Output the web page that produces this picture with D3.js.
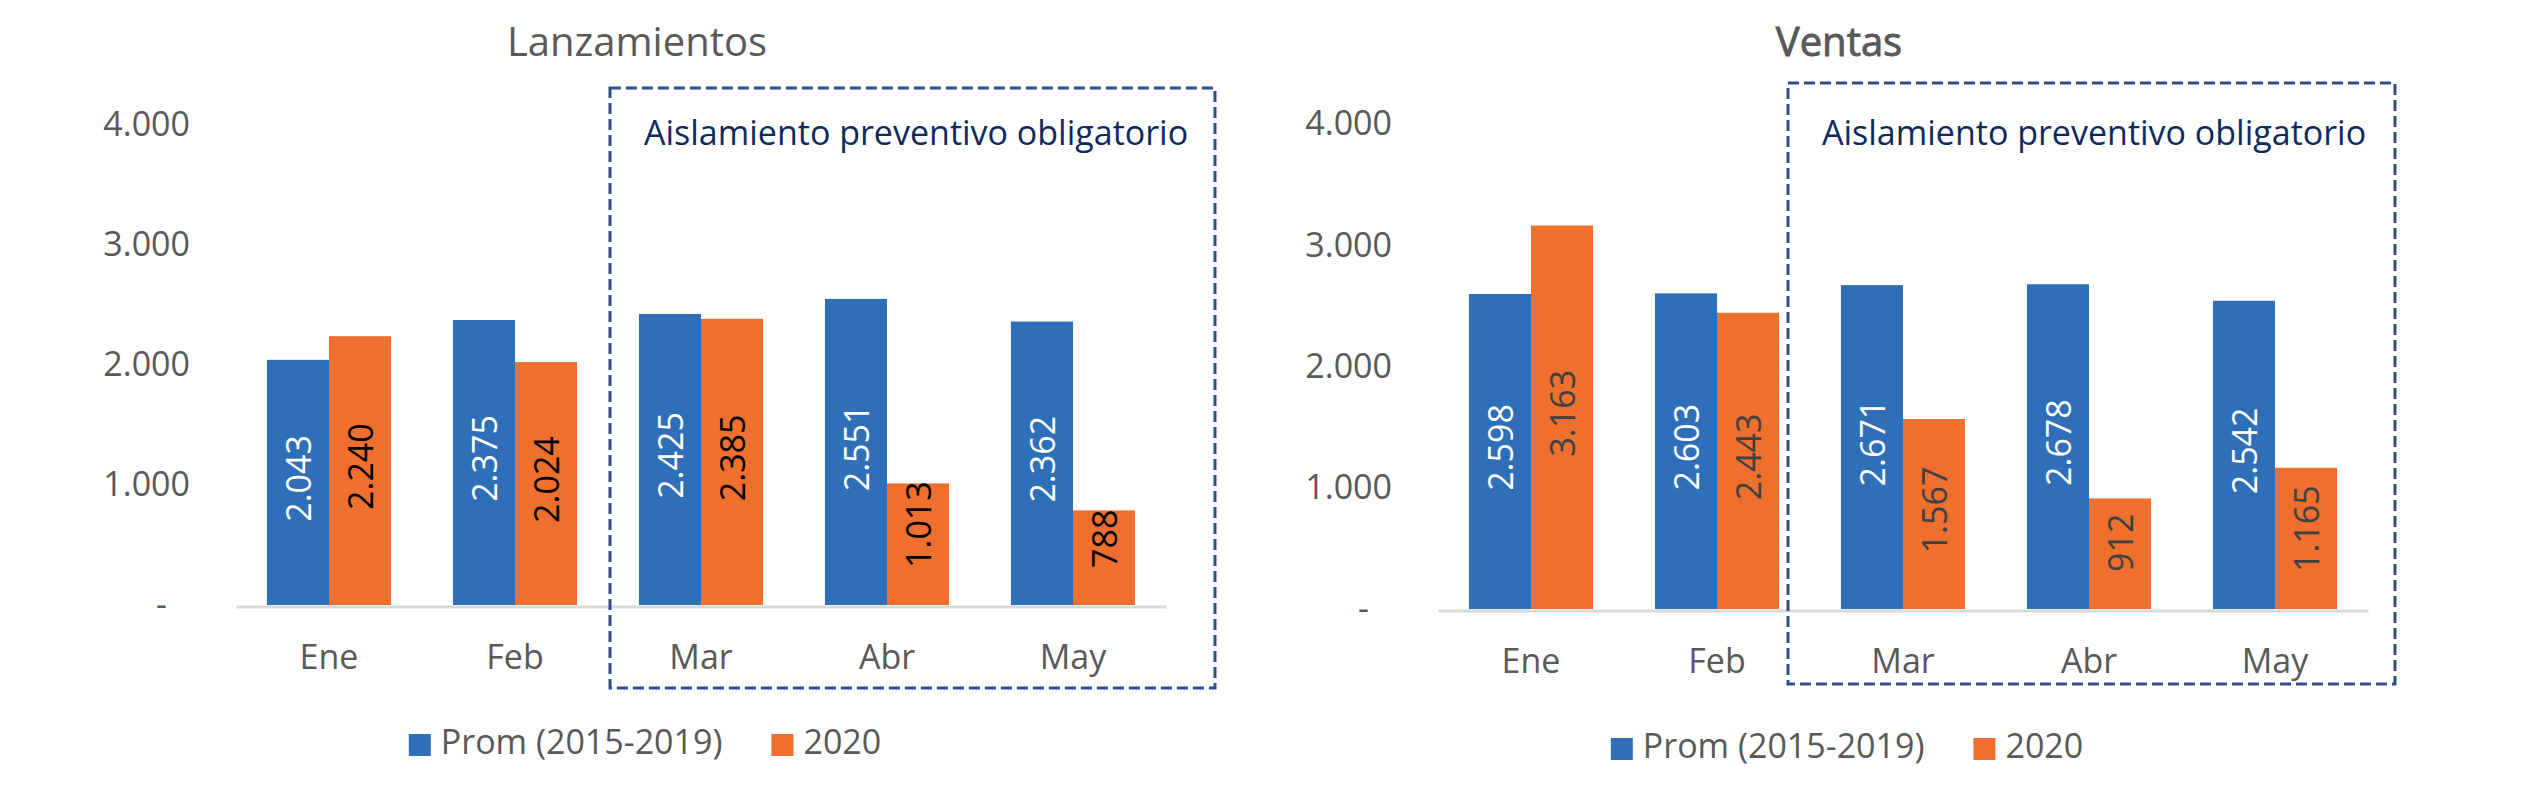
<!DOCTYPE html>
<html>
<head>
<meta charset="utf-8">
<script src="https://cdn.jsdelivr.net/npm/d3@7"></script>
<style>
  body { margin: 0; background: #fff; }
  svg { display: block; font-family: "Open Sans", "Noto Sans", sans-serif; }
</style>
</head>
<body>
<svg id="chart"></svg>
<script>
const months = ["Ene", "Feb", "Mar", "Abr", "May"];
const seriesNames = ["Prom (2015-2019)", "2020"];
const lanzProm = [2043, 2375, 2425, 2551, 2362];
const lanz2020 = [2240, 2024, 2385, 1013, 788];
const ventasProm = [2598, 2603, 2671, 2678, 2542];
const ventas2020 = [3163, 2443, 1567, 912, 1165];
const yTicks = [0, 1000, 2000, 3000, 4000];
const boxLabel = "Aislamiento preventivo obligatorio";
const boxStart = "Mar";

const width = 2526, height = 810;
const colors = ["#2e6fb8", "#ee6f2e"];
const locale = d3.formatLocale({ decimal: ",", thousands: ".", grouping: [3], currency: ["$", ""] });
const fmt = v => v === 0 ? "-" : locale.format(",")(v);

// two panels, side by side
const panels = [
  { title: "Lanzamientos", stroke: 0, values: [lanzProm, lanz2020],
    x0: 236, x1: 1166, y0: 605, y1: 125, titleX: 637, legendX: 645, legendY: 754,
    labelColors: ["#fff", "#000"], box: { dx0: 2, dx1: 49, top: 88, bottom: 688 } },
  { title: "Ventas", stroke: 0.9, values: [ventasProm, ventas2020],
    x0: 1438, x1: 2368, y0: 609, y1: 124, titleX: 1839, legendX: 1847, legendY: 758,
    labelColors: ["#fff", "#404040"], box: { dx0: -22, dx1: 27, top: 83, bottom: 684 } }
];

const svg = d3.select("#chart")
  .attr("width", width)
  .attr("height", height)
  .attr("viewBox", [0, 0, width, height]);

panels.forEach(p => {
  const g = svg.append("g");

  const x = d3.scaleBand()
    .domain(months)
    .range([p.x0, p.x1])
    .paddingInner(0.333)
    .paddingOuter(0.1665);

  const xs = d3.scaleBand()
    .domain(d3.range(seriesNames.length))
    .range([0, x.bandwidth()]);

  const y = d3.scaleLinear()
    .domain([0, 4000])
    .range([p.y0, p.y1]);

  // title
  g.append("text")
    .attr("x", p.titleX)
    .attr("y", 56)
    .attr("text-anchor", "middle")
    .attr("font-size", 40)
    .attr("fill", "#595959")
    .attr("stroke", "#595959")
    .attr("stroke-width", p.stroke)
    .text(p.title);

  // y axis
  const gy = g.append("g")
    .attr("transform", `translate(${p.x0},0)`)
    .call(d3.axisLeft(y).tickValues(yTicks).tickFormat(fmt).tickSize(0).tickPadding(46))
    .call(a => a.select(".domain").remove())
    .attr("font-family", null)
    .attr("font-size", 34);
  gy.selectAll("text")
    .attr("fill", "#595959")
    .attr("dx", d => d === 0 ? -23 : 0);

  // x axis
  const gx = g.append("g")
    .attr("transform", `translate(0,${p.y0 + 1.5})`)
    .call(d3.axisBottom(x).tickSize(0).tickSizeOuter(0))
    .attr("font-family", null)
    .attr("font-size", 34);
  gx.select(".domain").attr("stroke", "#d9d9d9").attr("stroke-width", 3);
  gx.selectAll("text")
    .attr("fill", "#595959")
    .attr("dy", null)
    .attr("y", 62);

  // bars
  const rows = months.map((m, j) => ({ month: m, vals: p.values.map(s => s[j]) }));
  const groups = g.append("g")
    .selectAll("g")
    .data(rows)
    .join("g")
    .attr("transform", d => `translate(${x(d.month)},0)`);

  groups.selectAll("rect")
    .data(d => d.vals)
    .join("rect")
    .attr("x", (d, i) => xs(i))
    .attr("y", d => y(d))
    .attr("width", xs.bandwidth())
    .attr("height", d => y(0) - y(d))
    .attr("fill", (d, i) => colors[i]);

  // value labels, rotated
  groups.selectAll("text")
    .data(d => d.vals)
    .join("text")
    .attr("text-anchor", "middle")
    .attr("dominant-baseline", "central")
    .attr("font-size", 34)
    .attr("fill", (d, i) => p.labelColors[i])
    .text(d => fmt(d))
    .each(function (d, i) {
      const len = this.getComputedTextLength();
      let cy = (y(d) + y(0)) / 2 - 4;
      if (cy + len / 2 > y(0) - 37) cy = y(0) - 37 - len / 2;
      const cx = xs(i) + xs.bandwidth() / 2;
      d3.select(this).attr("transform", `translate(${cx},${cy}) rotate(-90)`);
    });

  // dashed box for the lockdown period
  const bx0 = x(boxStart) - x.step() * x.paddingInner() / 2 + p.box.dx0;
  const bx1 = p.x1 + p.box.dx1;
  g.append("rect")
    .attr("x", bx0)
    .attr("y", p.box.top)
    .attr("width", bx1 - bx0)
    .attr("height", p.box.bottom - p.box.top)
    .attr("fill", "none")
    .attr("stroke", "#2f4f8c")
    .attr("stroke-width", 3)
    .attr("stroke-dasharray", "11,5");

  g.append("text")
    .attr("x", bx0 + 34)
    .attr("y", 145)
    .attr("font-size", 34)
    .attr("fill", "#0e2a5e")
    .text(boxLabel);

  // legend
  const leg = g.append("g");
  let lx = 0;
  seriesNames.forEach((name, i) => {
    leg.append("rect")
      .attr("x", lx)
      .attr("y", p.legendY - 20)
      .attr("width", 22)
      .attr("height", 22)
      .attr("fill", colors[i]);
    const t = leg.append("text")
      .attr("x", lx + 32)
      .attr("y", p.legendY)
      .attr("font-size", 34)
      .attr("fill", "#595959")
      .text(name);
    lx += 32 + t.node().getComputedTextLength() + 49;
  });
  const lw = lx - 49;
  leg.attr("transform", `translate(${p.legendX - lw / 2},0)`);
});
</script>
</body>
</html>
